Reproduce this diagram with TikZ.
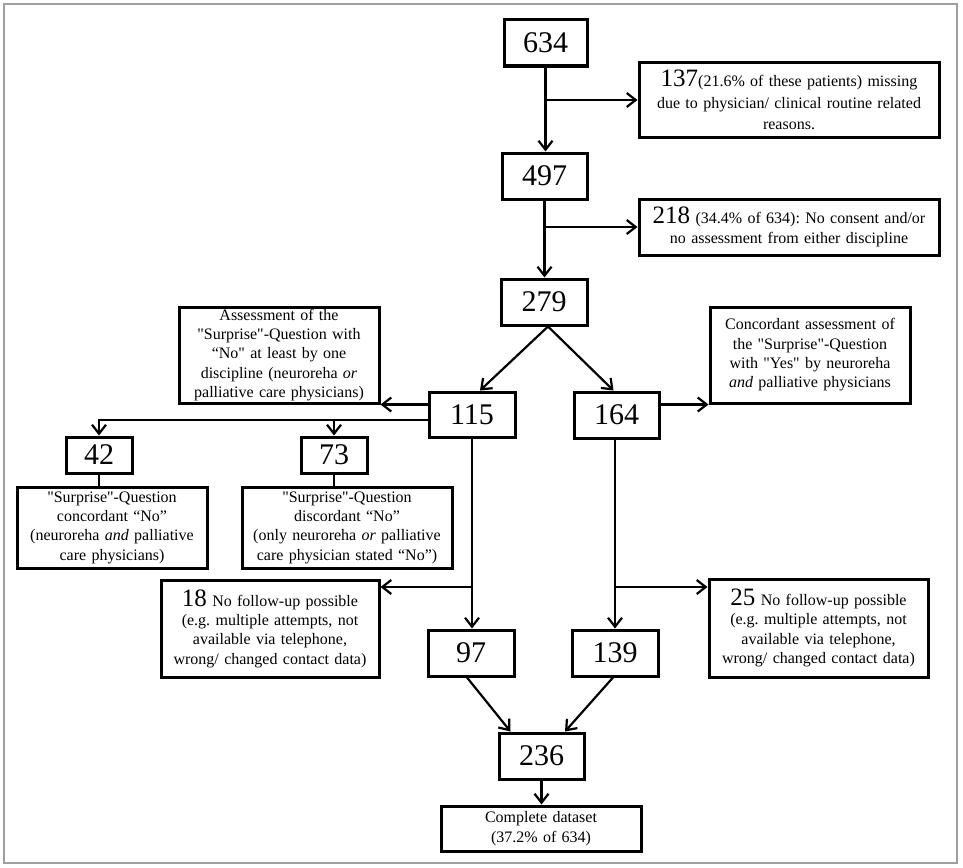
\documentclass[tikz,border=0pt]{standalone}
\usepackage{fontspec}
\setmainfont{Liberation Serif}
\usetikzlibrary{arrows.meta,calc}
\newcommand{\bignum}[1]{{\fontsize{25}{25}\selectfont #1}}
\newcommand{\sq}{\textquotedbl}
\frenchspacing
\begin{document}
\begin{tikzpicture}[x=1pt,y=-1pt,
  numbox/.style={draw, line width=3pt, inner sep=0pt, font=\fontsize{30}{30}\selectfont},
  txtbox/.style={draw, line width=3pt, inner xsep=0pt, inner ysep=0pt, align=center, font=\fontsize{16}{19.3}\selectfont},
  conn/.style={line width=2.2pt, line cap=rect},
  arr/.style={conn, -{Straight Barb[length=9pt,width=14pt,line width=2.2pt]}}
]
\useasboundingbox (0,0) rectangle (963,867);
\fill[white] (0,0) rectangle (963,867);
\draw[gray!75, line width=2pt] (4,4) rectangle (957,863);

% main column
\node[numbox, minimum width=83pt, minimum height=46pt] (n634) at (545.5,43) {634};
\node[txtbox, minimum width=300pt, minimum height=74pt, text width=292pt, font=\fontsize{16}{21.7}\selectfont] (b137) at (789,100)
  {\bignum{137}(21.6\% of these patients) missing\\ due to physician/ clinical routine related\\ reasons.};
\node[numbox, minimum width=85pt, minimum height=46pt] (n497) at (544.5,176) {497};
\node[txtbox, minimum width=300pt, minimum height=56pt, text width=292pt] (b218) at (789,227)
  {\bignum{218} (34.4\% of 634): No consent and/or\\ no assessment from either discipline};
\node[numbox, minimum width=86pt, minimum height=46pt] (n279) at (544,302) {279};

\node[numbox, minimum width=86pt, minimum height=45pt] (n115) at (472,414.5) {115};
\node[numbox, minimum width=85pt, minimum height=46pt] (n164) at (616.5,415) {164};

\node[txtbox, minimum width=200pt, minimum height=96pt, text width=196pt] (bAssess) at (279,355)
  {Assessment of the\\ \sq Surprise\sq-Question with\\ “No\sq\ at least by one\\ discipline (neuroreha \textit{or}\\ palliative care physicians)};
\node[txtbox, minimum width=200pt, minimum height=96pt, text width=196pt] (bConc) at (810,355)
  {Concordant assessment of\\ the \sq Surprise\sq-Question\\ with \sq Yes\sq\ by neuroreha\\ \textit{and} palliative physicians};

\node[numbox, minimum width=66pt, minimum height=36pt] (n42) at (99,455) {42};
\node[numbox, minimum width=66pt, minimum height=36pt] (n73) at (334,455) {73};

\node[txtbox, minimum width=190pt, minimum height=81pt, text width=186pt] (bCN) at (112,527.5)
  {\sq Surprise\sq-Question\\ concordant “No”\\ (neuroreha \textit{and} palliative\\ care physicians)};
\node[txtbox, minimum width=210pt, minimum height=81pt, text width=206pt] (bDN) at (347,527.5)
  {\sq Surprise\sq-Question\\ discordant “No”\\ (only neuroreha \textit{or} palliative\\ care physician stated “No”)};

\node[txtbox, minimum width=218pt, minimum height=97pt, text width=214pt] (b18) at (270,628.5)
  {\bignum{18} No follow-up possible\\ (e.g. multiple attempts, not\\ available via telephone,\\ wrong/ changed contact data)};
\node[txtbox, minimum width=219pt, minimum height=98pt, text width=215pt] (b25) at (818.5,628)
  {\bignum{25} No follow-up possible\\ (e.g. multiple attempts, not\\ available via telephone,\\ wrong/ changed contact data)};

\node[numbox, minimum width=86pt, minimum height=46pt] (n97) at (471,653) {97};
\node[numbox, minimum width=86pt, minimum height=46pt] (n139) at (615,653) {139};
\node[numbox, minimum width=85pt, minimum height=46pt] (n236) at (541.5,756) {236};
\node[txtbox, minimum width=200pt, minimum height=45pt, text width=196pt] (bCD) at (541,828.5)
  {Complete dataset\\ (37.2\% of 634)};

% connectors
\draw[arr] (n634.south) -- (n634.south |- n497.north);
\draw[arr] (n634.south |- b137.west) -- (b137.west);
\draw[arr] (n497.south) -- (n497.south |- n279.north);
\draw[arr] (n497.south |- b218.west) -- (b218.west);

\draw[arr] ([xshift=4pt]n279.south) -- ([xshift=8pt]n115.north);
\draw[arr] ([xshift=4pt]n279.south) -- ([xshift=-3pt]n164.north);

\draw[arr] (n115.west |- bAssess.south east) -- (bAssess.south east);
\draw[arr] (n164.east |- bConc.south west) -- (bConc.south west);

\coordinate (j115w) at ([yshift=-5.5pt]n115.west);
\draw[arr] (j115w) -| (n42.north);
\draw[arr] (n73.north |- j115w) -- (n73.north);
\draw[conn] (n42.south) -- (n42.south |- bCN.north);
\draw[conn] (n73.south) -- (n73.south |- bDN.north);

\coordinate (j115) at (472,587);
\coordinate (j164) at (615,587);
\draw[arr] (n115.south) -- (n115.south |- n97.north);
\draw[arr] (j115) -- (j115 -| b18.east);
\draw[arr] (n164.south -| j164) -- (j164 |- n139.north);
\draw[arr] (j164) -- (j164 -| b25.west);

\draw[arr] ([xshift=-4pt]n97.south) -- ([xshift=-31pt]n236.north);
\draw[arr] ([xshift=-2pt]n139.south) -- ([xshift=23.5pt]n236.north);
\draw[arr] (n236.south) -- (n236.south |- bCD.north);
\end{tikzpicture}
\end{document}
